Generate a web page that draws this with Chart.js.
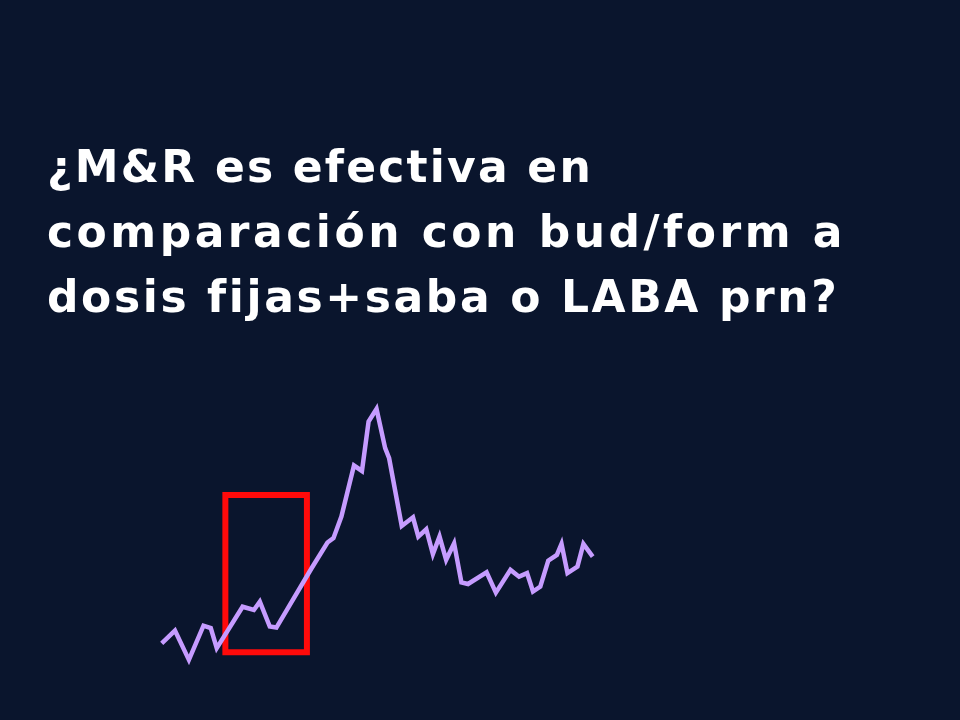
<!DOCTYPE html>
<html lang="es">
<head>
    <meta charset="UTF-8">
    <title>M&R vs bud/form</title>
    <style>
        body {
            margin: 0;
            background: #0a152d;
            font-family: "DejaVu Sans", sans-serif;
        }
        .lienzo {
            position: relative;
            width: 960px;
            height: 720px;
            overflow: hidden;
        }
        h1 {
            position: absolute;
            left: 47px;
            top: 134px;
            margin: 0;
            color: #ffffff;
            font-size: 44px;
            font-weight: bold;
            line-height: 65px;
            z-index: 2;
            white-space: nowrap;
        }
        h1 span { display: block; }
        .l1 { letter-spacing: 2.2px; }
        .l2 { letter-spacing: 3.5px; }
        .l3 { letter-spacing: 2.6px; }
        canvas {
            position: absolute;
            left: 0;
            top: 0;
        }
    </style>
</head>
<body>

<div class="lienzo">
    <h1><span class="l1">¿M&amp;R es efectiva en</span><span class="l2">comparación con bud/form a</span><span class="l3">dosis fijas+saba o LABA prn?</span></h1>
    <canvas id="grafico" width="960" height="720"></canvas>
</div>

<script src="https://cdn.jsdelivr.net/npm/chart.js"></script>
<script>
    // interés relativo (pico = 100) a lo largo de las semanas
    const semanas = [0, 2.0, 4.1, 6.3, 7.4, 8.3, 12.2, 13.9, 14.8, 16.3, 17.3, 22.6, 25.0, 25.9, 27.1,
        29.0, 30.2, 31.2, 32.4, 33.7, 34.3, 36.2, 37.9, 38.7, 39.9, 40.9, 41.9, 42.9, 44.1, 45.2,
        46.2, 49.0, 50.4, 52.6, 53.9, 55.1, 56.0, 57.1, 58.3, 59.6, 60.3, 61.2, 62.7, 63.6, 65.0];
    const interes = [13.5, 18.2, 7.4, 20.0, 19.1, 11.7, 27.0, 25.8, 28.9, 19.7, 19.3, 41.2, 50.7, 52.3, 60.3,
        79.1, 77.1, 95.3, 100, 85.5, 81.8, 56.8, 60.0, 52.9, 55.6, 46.4, 52.9, 44.3, 50.4, 36.0,
        35.4, 39.7, 32.2, 40.6, 38.1, 39.4, 32.6, 34.4, 44.0, 46.1, 50.2, 39.4, 41.8, 50.2, 45.5];

    // zona resaltada (semanas y nivel de interés)
    const zonaSemanas = [9.6, 21.9];
    const zonaInteres = [10.2, 68.2];

    function puntosZona() {
        const [x0, x1] = zonaSemanas;
        const [y0, y1] = zonaInteres;
        const xm = (x0 + x1) / 2;
        // empieza a mitad del lado de arriba para que todas las esquinas queden en ángulo
        return [
            { x: xm, y: y1 }, { x: x1, y: y1 }, { x: x1, y: y0 },
            { x: x0, y: y0 }, { x: x0, y: y1 }, { x: xm, y: y1 }
        ];
    }

    const ctx = document.getElementById('grafico').getContext('2d');
    new Chart(ctx, {
        type: 'line',
        data: {
            datasets: [{
                label: 'Interés',
                data: semanas.map((s, i) => ({ x: s, y: interes[i] })),
                borderColor: '#c69cff',
                borderWidth: 4.5,
                pointRadius: 0,
                tension: 0,
                fill: false
            }, {
                label: 'Zona',
                data: puntosZona(),
                borderColor: '#ff0a0a',
                borderWidth: 6,
                borderJoinStyle: 'miter',
                pointRadius: 0,
                tension: 0,
                fill: false
            }]
        },
        options: {
            responsive: false,
            animation: false,
            layout: { padding: 0 },
            plugins: {
                legend: { display: false },
                tooltip: { enabled: false }
            },
            scales: {
                x: { type: 'linear', display: false, min: -24.39, max: 120.4 },
                y: { display: false, min: -14.8, max: 250.9 }
            }
        }
    });
</script>

</body>
</html>
